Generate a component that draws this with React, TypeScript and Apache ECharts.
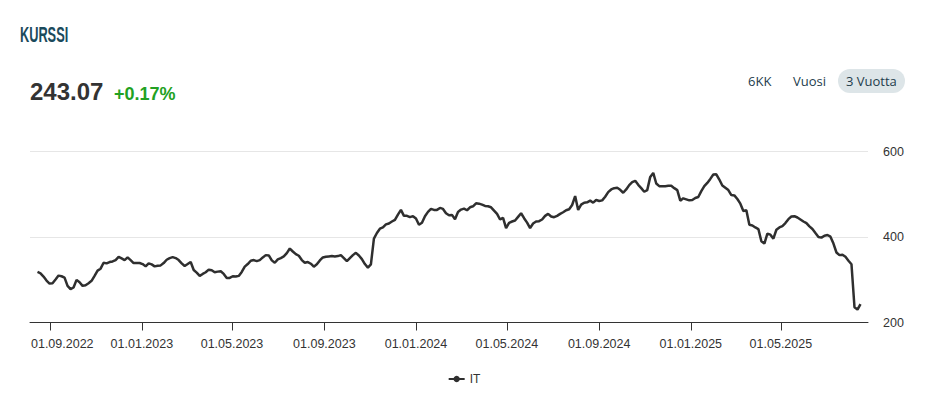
import React, { useEffect, useRef } from "react";
import * as echarts from "echarts";

// Price series: one reading every 4 days, starting 2022-08-15
const seriesName = "IT";
const startDate = "2022-08-15";
const stepDays = 4;
const prices: number[] = [
  318.2, 315.1, 307.4, 298.2, 291.2, 291.9, 300.5, 309.7, 308.2, 305.1,
  285.8, 278.1, 281.9, 299.7, 294.1, 285.8, 287.3, 292.0, 297.4, 309.0,
  321.3, 325.9, 339.8, 338.3, 341.4, 342.9, 346.1, 353.7, 349.9, 346.0,
  352.2, 346.0, 339.1, 339.1, 339.1, 336.7, 331.3, 338.3, 336.0, 331.3,
  332.9, 333.6, 339.1, 346.8, 350.7, 353.0, 350.7, 346.0, 338.3, 332.1,
  336.7, 341.5, 322.9, 316.7, 309.0, 313.6, 317.5, 323.6, 322.1, 317.5,
  319.0, 319.8, 313.6, 304.3, 304.3, 308.2, 307.4, 309.0, 318.2, 330.6,
  336.7, 344.5, 346.0, 343.7, 346.0, 352.2, 357.6, 356.8, 345.3, 339.8,
  347.6, 350.7, 354.5, 362.2, 373.0, 366.1, 359.9, 356.1, 346.0, 339.8,
  341.4, 337.5, 330.6, 336.0, 345.3, 352.2, 353.7, 354.5, 355.3, 354.5,
  355.3, 357.6, 350.7, 343.7, 350.7, 357.6, 363.0, 356.8, 348.3, 336.7,
  328.3, 336.0, 396.2, 409.3, 419.4, 422.4, 429.4, 431.7, 436.3, 440.2,
  452.5, 463.4, 449.5, 449.5, 446.4, 448.7, 443.3, 428.6, 433.2, 448.7,
  458.7, 465.7, 463.4, 463.4, 468.0, 465.7, 455.6, 451.0, 451.7, 441.7,
  458.7, 464.1, 466.4, 462.6, 469.5, 471.8, 478.8, 478.0, 475.7, 472.6,
  471.8, 469.5, 461.8, 454.1, 441.0, 444.8, 420.9, 433.2, 436.3, 438.6,
  447.1, 455.6, 444.0, 433.6, 420.9, 431.7, 436.3, 437.1, 441.0, 449.5,
  454.1, 447.9, 446.4, 449.5, 454.1, 457.9, 462.6, 464.9, 474.9, 495.8,
  463.4, 475.7, 480.3, 481.1, 485.0, 480.3, 486.5, 484.2, 485.7, 494.2,
  505.0, 511.2, 514.3, 515.1, 510.4, 503.5, 511.2, 521.3, 528.2, 531.3,
  522.0, 514.3, 505.8, 509.7, 540.6, 549.8, 525.1, 518.9, 518.9, 518.9,
  519.7, 519.7, 514.3, 509.7, 485.0, 490.4, 488.1, 485.7, 486.5, 491.1,
  493.5, 507.4, 518.9, 526.6, 535.9, 546.0, 546.7, 534.4, 520.5, 515.1,
  509.7, 498.1, 497.3, 488.8, 478.0, 461.0, 462.6, 428.6, 427.1, 422.4,
  418.6, 390.0, 384.6, 407.8, 405.5, 396.2, 417.0, 422.4, 425.5, 432.5,
  441.7, 447.9, 448.7, 445.6, 441.0, 436.3, 432.5, 424.8, 418.6, 409.3,
  400.1, 398.5, 403.1, 404.7, 400.8, 384.6, 363.8, 357.6, 358.4, 353.7,
  344.5, 336.3, 235.6, 230.2, 243.07,
];

const tickDates = [
  "2022-09-01", "2023-01-01", "2023-05-01", "2023-09-01", "2024-01-01",
  "2024-05-01", "2024-09-01", "2025-01-01", "2025-05-01",
];
const axisStart = "2022-08-05";
const axisEnd = "2025-08-25";
const yTicks = [200, 400, 600];

const titleText = "KURSSI";
const lastPrice = "243.07";
const changeText = "+0.17%";
const rangeButtons = ["6KK", "Vuosi", "3 Vuotta"];
const activeButton = "3 Vuotta";

const DAY = 86400000;
const ts = (s: string) => Date.parse(s + "T00:00:00Z");

function fmtDate(v: number): string {
  const d = new Date(v);
  const dd = String(d.getUTCDate()).padStart(2, "0");
  const mm = String(d.getUTCMonth() + 1).padStart(2, "0");
  return `${dd}.${mm}.${d.getUTCFullYear()}`;
}

export default function App() {
  const ref = useRef<HTMLDivElement>(null);

  useEffect(() => {
    if (!ref.current) return;
    const chart = echarts.init(ref.current, undefined, { renderer: "svg" });
    const t0 = ts(startDate);
    const data = prices.map((p, i) => [t0 + i * stepDays * DAY, p]);
    const ticks = tickDates.map(ts);

    const btnX = [748, 793, 846];
    const btnGraphics: any[] = [];
    rangeButtons.forEach((b, i) => {
      if (b === activeButton) {
        btnGraphics.push({
          type: "rect",
          shape: { x: 838, y: 69, width: 67, height: 24, r: 12 },
          style: { fill: "#dde5e8" },
        });
      }
      btnGraphics.push({
        type: "text",
        x: btnX[i],
        y: 81,
        style: {
          text: b,
          fill: "#1d3c4c",
          font: "500 13px 'Open Sans', 'Noto Sans', sans-serif",
          verticalAlign: "middle",
        },
      });
    });

    chart.setOption({
      animation: false,
      grid: { left: 30, right: 60, top: 151.5, bottom: 84.5, containLabel: false },
      legend: {
        bottom: 17,
        left: "center",
        itemWidth: 16,
        itemHeight: 8,
        itemGap: 10,
        textStyle: { color: "#333", fontSize: 12, fontFamily: "'Liberation Sans', Arial, sans-serif" },
        data: [seriesName],
      },
      graphic: [
        {
          type: "text",
          x: 20,
          y: 24,
          scaleX: 0.58,
          style: {
            text: titleText,
            fill: "#1b4a5c",
            font: "bold 22px 'Liberation Sans', Arial, sans-serif",
          },
        },
        {
          type: "text",
          x: 30,
          y: 103,
          style: {
            text: lastPrice,
            fill: "#333333",
            font: "bold 24px 'Liberation Sans', Arial, sans-serif",
            verticalAlign: "bottom",
          },
        },
        {
          type: "text",
          x: 114,
          y: 103,
          style: {
            text: changeText,
            fill: "#22a122",
            font: "bold 18px 'Liberation Sans', Arial, sans-serif",
            verticalAlign: "bottom",
          },
        },
        ...btnGraphics,
      ],
      xAxis: {
        type: "value",
        min: ts(axisStart),
        max: ts(axisEnd),
        axisLine: { show: true, onZero: false, lineStyle: { color: "#333", width: 1 } },
        axisTick: { show: true, length: 8, lineStyle: { color: "#333" }, customValues: ticks },
        axisLabel: {
          customValues: ticks,
          formatter: (v: number) => (v === ticks[0] ? `{first|${fmtDate(v)}}` : fmtDate(v)),
          color: "#333",
          fontSize: 12.5,
          margin: 15,
          fontFamily: "'Liberation Sans', Arial, sans-serif",
          rich: {
            first: {
              color: "#333",
              fontSize: 12.5,
              fontFamily: "'Liberation Sans', Arial, sans-serif",
              padding: [0, 0, 0, 24],
            },
          },
        },
        splitLine: { show: false },
      },
      yAxis: {
        type: "value",
        position: "right",
        min: yTicks[0],
        max: yTicks[yTicks.length - 1],
        interval: 200,
        axisLine: { show: false },
        axisTick: { show: false },
        axisLabel: {
          color: "#333",
          fontSize: 12.5,
          margin: 15,
          fontFamily: "'Liberation Sans', Arial, sans-serif",
        },
        splitLine: { show: true, lineStyle: { color: "#e6e6e6", width: 1 } },
      },
      series: [
        {
          name: seriesName,
          type: "line",
          data,
          showSymbol: false,
          symbol: "circle",
          symbolSize: 7,
          lineStyle: { color: "#2f2f2f", width: 2.5 },
          itemStyle: { color: "#2f2f2f" },
        },
      ],
    });
    return () => chart.dispose();
  }, []);

  return (
    <div
      ref={ref}
      style={{ position: "fixed", left: 0, top: 0, width: 928, height: 407, background: "#fff" }}
    />
  );
}
